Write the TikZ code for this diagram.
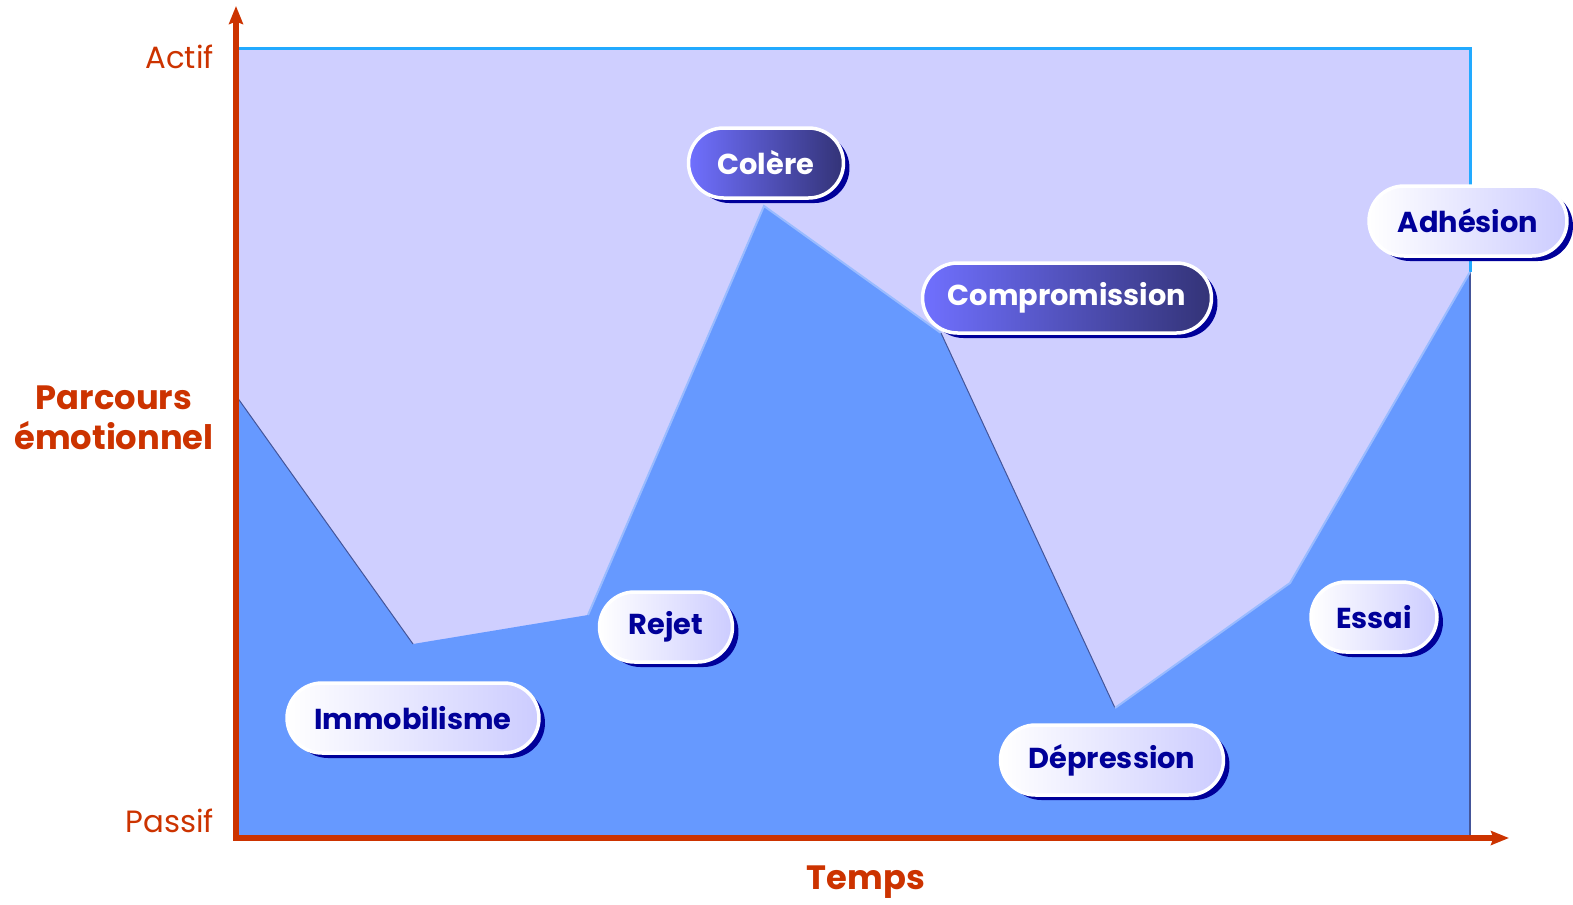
\documentclass[tikz,border=0pt]{standalone}
\usepackage{fontspec}
\setmainfont{Poppins}
\usepackage{tikz}
\usetikzlibrary{calc}
\usetikzlibrary{arrows.meta, shadows}
\definecolor{bglight}{RGB}{207,207,255}
\definecolor{curvefill}{RGB}{102,153,255}
\definecolor{framecyan}{RGB}{34,170,255}
\definecolor{axisred}{RGB}{204,51,0}
\definecolor{navy}{RGB}{0,0,153}
\definecolor{pillleft}{RGB}{112,112,255}
\definecolor{pillright}{RGB}{51,51,119}
\definecolor{palepill}{RGB}{204,204,255}
\definecolor{riseedge}{RGB}{153,187,255}
\definecolor{falledge}{RGB}{68,85,153}
\tikzstyle{pill} = [rectangle,
rounded corners=0.7cm,
minimum height=1.4cm,
draw=white,
line width=0.07cm,
font=\bfseries\fontsize{16.4}{20}\selectfont,
drop shadow={shadow xshift=0.12cm, shadow yshift=-0.1cm, fill=navy, opacity=1}]
\tikzstyle{darkpill} = [pill, left color=pillleft, right color=pillright, text=white]
\tikzstyle{lightpill} = [pill, left color=white, right color=palepill, text=navy]
\tikzstyle{axis} = [line width=0.12cm, axisred, -{Stealth[length=0.36cm, width=0.28cm, inset=0.05cm]}]
\tikzstyle{axislabel} = [text=axisred, font=\fontsize{17.5}{20}\selectfont, anchor=east]
\tikzstyle{axistitle} = [text=axisred, font=\bfseries\fontsize{19.2}{23}\selectfont, align=center]

\begin{document}
\begin{tikzpicture}[x=0.02cm, y=-0.02cm]
    % curve points
    \coordinate (p0) at (237,397);
    \coordinate (p1) at (413,644);
    \coordinate (p2) at (588,615);
    \coordinate (p3) at (764,206);
    \coordinate (p4) at (941,333);
    \coordinate (p5) at (1115,708);
    \coordinate (p6) at (1290,583);
    \coordinate (p7) at (1470,272);
    \coordinate (bl) at (237,836);
    \coordinate (br) at (1470,836);
    \coordinate (tl) at (237,48.5);
    \coordinate (tr) at (1470,48.5);

    % background and filled area
    \fill [bglight] (tl) rectangle (br);
    \fill [curvefill] (p0) -- (p1) -- (p2) -- (p3) -- (p4) -- (p5) -- (p6) -- (p7) -- (br) -- (bl) -- cycle;
    \draw [framecyan, line width=0.06cm] (tl) -- (tr) -- (p7);
    \draw [falledge, line width=0.04cm] (p7) -- (br);

    % edges of the curve
    \draw [falledge, line width=0.02cm] (p0) -- (p1);
    \draw [riseedge, line width=0.04cm] (p2) -- (p3) -- (p4);
    \draw [falledge, line width=0.02cm] (p4) -- (p5);
    \draw [riseedge, line width=0.04cm] (p5) -- (p6) -- (p7);

    % axes
    \coordinate (origin) at (236,838);
    \coordinate (ytip) at (236,6);
    \coordinate (xtip) at (1509,838);
    \draw [axis] (origin) -- (ytip);
    \draw [axis] ($(origin)+(-3,0)$) -- (xtip);

    % axis labels
    \node (actif) [axislabel] at (220,57) {Actif};
    \node (passif) [axislabel] at (220,821) {Passif};
    \node (parcours) [axistitle] at (114,418) {Parcours\\émotionnel};
    \node (temps) [axistitle] at (866,882) {Temps};

    % stages
    \node (col) [darkpill, minimum width=3.1cm] at (766,163) {Colère};
    \node (comp) [darkpill, minimum width=5.78cm] at (1067,298) {Compromission};
    \node (adh) [lightpill, minimum width=3.96cm] at (1468,221) {Adhésion};
    \node (ess) [lightpill, minimum width=2.52cm] at (1374,617) {Essai};
    \node (rej) [lightpill, minimum width=2.66cm] at (666,627) {Rejet};
    \node (immo) [lightpill, minimum width=5.04cm] at (413,718) {Immobilisme};
    \node (dep) [lightpill, minimum width=4.46cm] at (1112,760) {Dépression};

    \pgfresetboundingbox
    \useasboundingbox (0,0) rectangle (1573,904);
\end{tikzpicture}
\end{document}
